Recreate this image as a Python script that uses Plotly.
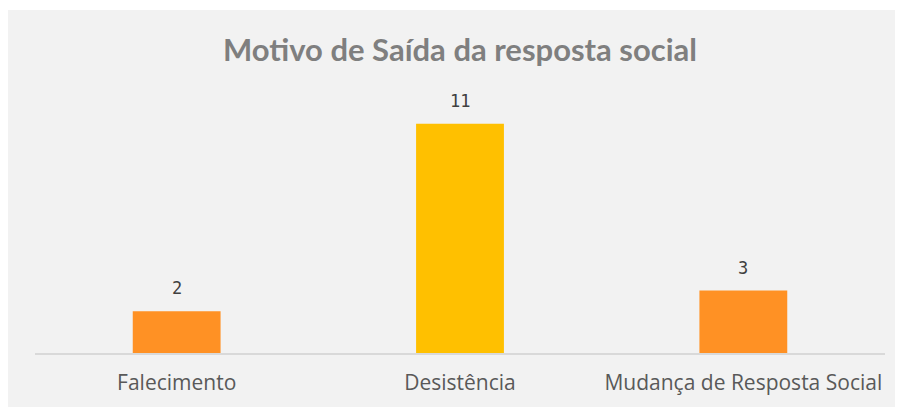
import plotly.graph_objects as go

# Data
categorias = ['Falecimento', 'Desistência', 'Mudança de Resposta Social']
valores = [2, 11, 3]
cores = ['#FF9124', '#FFC000', '#FF9124']

# page body adds an 8px offset, so the figure is sized to fit the window
W, H = 895, 399
left, right, top, bottom = 27, 18, 95, 54
plot_w = W - left - right
plot_h = H - top - bottom

fig = go.Figure()

fig.add_trace(go.Bar(
    x=categorias,
    y=valores,
    marker=dict(color=cores, line=dict(width=0)),
    width=0.31,
    hoverinfo='skip',
))

# Data labels above each bar
for cat, val in zip(categorias, valores):
    fig.add_annotation(
        x=cat, y=val, text=str(val), showarrow=False,
        yshift=23, font=dict(family='DejaVu Sans Mono', size=17, color='#404040'),
    )

# Light gray chart background (white strip at top like the original)
fig.add_shape(
    type='rect', xref='paper', yref='paper', layer='below',
    x0=-(left + 5) / plot_w, x1=(W + 5 - left) / plot_w,
    y0=-(bottom + 5) / plot_h, y1=(H - bottom - 2) / plot_h,
    fillcolor='#F2F2F2', line=dict(width=0),
)

fig.update_layout(
    width=W, height=H,
    margin=dict(l=left, r=right, t=top, b=bottom),
    paper_bgcolor='white',
    plot_bgcolor='rgba(0,0,0,0)',
    showlegend=False,
    title=dict(
        text='<b>Motivo de Saída da resposta social</b>',
        x=452 / W, xref='container', xanchor='center',
        y=1 - 42 / H, yref='container', yanchor='middle',
        font=dict(family='Lato', size=31, color='#7F7F7F'),
    ),
    xaxis=dict(
        automargin=False,
        showline=True, linecolor='#D9D9D9', linewidth=2,
        showgrid=False, ticks='', ticklabelstandoff=10,
        tickfont=dict(family='Open Sans', size=21, color='#595959'),
    ),
    yaxis=dict(
        range=[0, 12], visible=False, showgrid=False, zeroline=False,
    ),
)

fig.write_html('out.html')
